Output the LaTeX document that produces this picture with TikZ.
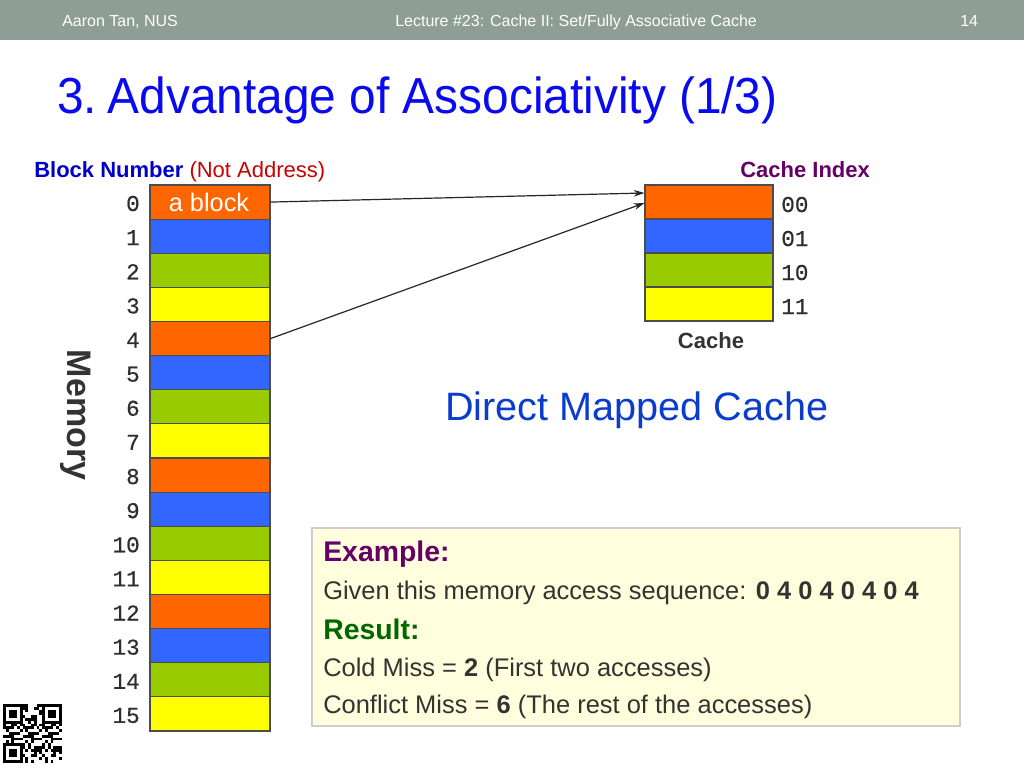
\documentclass[tikz,border=0pt]{standalone}
\usepackage{fontspec}
\setmainfont{Liberation Sans}
\setmonofont{Liberation Mono}
\newfontfamily\digitfont[FakeBold=0.5]{Liberation Mono}
\usetikzlibrary{arrows.meta}
\definecolor{hdr}{RGB}{142,158,150}
\definecolor{ttl}{RGB}{10,10,240}
\definecolor{dmc}{RGB}{10,60,205}
\definecolor{bnum}{RGB}{0,0,200}
\definecolor{nadr}{RGB}{200,0,0}
\definecolor{purp}{RGB}{102,0,102}
\definecolor{grn}{RGB}{0,102,0}
\definecolor{txt}{RGB}{51,51,51}
\definecolor{c0}{RGB}{255,102,0}
\definecolor{c1}{RGB}{51,102,255}
\definecolor{c2}{RGB}{153,204,0}
\definecolor{c3}{RGB}{255,255,0}
\definecolor{boxfill}{RGB}{255,255,221}
\definecolor{boxline}{RGB}{205,205,205}
\tikzset{
  cell/.style={draw=black!70, line width=0.8pt, minimum width=90pt, minimum height=25.6pt, inner sep=0pt},
  ccell/.style={draw=black!70, line width=0.8pt, minimum width=96pt, minimum height=25.5pt, inner sep=0pt},
  numlab/.style={anchor=base east, inner sep=0pt, text=txt!90!black, font=\digitfont\fontsize{17}{17}\selectfont},
  idxlab/.style={anchor=base west, inner sep=0pt, text=txt!90!black, font=\digitfont\fontsize{17}{17}\selectfont},
  hdrtxt/.style={anchor=base west, inner sep=0pt, text=white, font=\fontsize{12}{12}\selectfont},
  body/.style={anchor=base west, inner sep=0pt, text=txt, font=\fontsize{19.1}{19.1}\selectfont},
  conn/.style={-{Stealth[length=8pt,width=5pt]}, line width=0.9pt, black!85},
}
\begin{document}
\begin{tikzpicture}[x=0.75pt,y=-0.75pt]
\useasboundingbox (0,0) rectangle (1024,768);
\fill[white] (0,0) rectangle (1024,768);
% header
\fill[hdr] (0,0) rectangle (1024,40);
\node[hdrtxt] (h1) at (62,26.7) {Aaron Tan, NUS};
\node[hdrtxt] (h2) at (395,26.7) {Lecture \#23: Cache II: Set/Fully Associative Cache};
\node[hdrtxt] (h3) at (960,26.7) {14};
% title
\node[anchor=base west, inner sep=0pt, text=ttl, font=\fontsize{38}{38}\selectfont, xscale=0.944] (title) at (57,113.5) {3.\hspace{-0.15em} Advantage of Associativity (1/3)};
% labels
\node[anchor=base west, inner sep=0pt, font=\fontsize{16.5}{17}\selectfont] (bn) at (34,177.5) {\textcolor{bnum}{\bfseries Block Number} \textcolor{nadr}{(Not Address)}};
\node[anchor=base west, inner sep=0pt, text=purp, font=\bfseries\fontsize{16.5}{17}\selectfont] (ci) at (740,177.5) {Cache Index};
% memory column
\foreach \i [evaluate=\i as \c using {int(mod(\i,4))}] in {0,...,15} {
  \node[cell, fill=c\c] (m\i) at (210, 185+34.125*\i+17.06) {};
  \node[numlab] (n\i) at (140, 185+34.125*\i+26) {\i};
}
\node[anchor=base, inner sep=0pt, text=white, font=\fontsize{19}{19}\selectfont] (ab) at (209,211.7) {a block};
\node[rotate=-90, text=txt, font=\bfseries\fontsize{25.5}{26}\selectfont, inner sep=0pt] (mem) at (76,415) {Memory};
% cache
\foreach \i/\l [evaluate=\i as \c using {int(mod(\i,4))}] in {0/00,1/01,2/10,3/11} {
  \node[ccell, fill=c\c] (k\i) at (709, 185+34*\i+17) {};
  \node[idxlab] (x\i) at (781, 185+34*\i+27) {\l};
}
\node[anchor=base, inner sep=0pt, text=txt, font=\bfseries\fontsize{16.5}{17}\selectfont] (cl) at (711,348) {Cache};
% arrows
\draw[conn] (m0.east) -- ([yshift=6.75pt]k0.west);
\draw[conn] (m4.east) -- ([yshift=-0.75pt]k0.west);
% direct mapped
\node[anchor=base west, inner sep=0pt, text=dmc, font=\fontsize{29.7}{30}\selectfont] (dm) at (445,420) {Direct Mapped Cache};
% example box
\node[draw=boxline, fill=boxfill, line width=0.8pt, minimum width=486pt, minimum height=148.5pt, inner sep=0pt] (ex) at (636,627) {};
\node[body, text=purp, font=\bfseries\fontsize{21.3}{21.3}\selectfont] (e1) at (323,561.5) {Example:};
\node[body] (e2) at (323,599) {Given this memory access sequence: \textbf{0 4 0 4 0 4 0 4}};
\node[body, text=grn, font=\bfseries\fontsize{21.3}{21.3}\selectfont] (e3) at (323,639) {Result:};
\node[body] (e4) at (323,676.5) {Cold Miss = \textbf{2} (First two accesses)};
\node[body] (e5) at (323,713) {Conflict Miss = \textbf{6} (The rest of the accesses)};
% QR code (approximation)
\foreach \r in {0,...,20} {
  \foreach \c in {0,...,20} {
    \pgfmathtruncatemacro\v{mod(\r*37+\c*53+\r*\c*17+mod(\r*\r,11)*\c+\c*\c*11,7)}
    \ifnum\v<3 \fill[black] (3+\c*2.8,704+\r*2.8) rectangle ++(2.8,2.8); \fi
  }
}
\foreach \qx/\qy in {0/0,14/0,0/14} {
  \fill[white] (3+\qx*2.8-0.01,704+\qy*2.8-0.01) rectangle ++(7*2.8+0.02,7*2.8+0.02);
  \fill[black] (3+\qx*2.8,704+\qy*2.8) rectangle ++(7*2.8,7*2.8);
  \fill[white] (3+\qx*2.8+2.8,704+\qy*2.8+2.8) rectangle ++(5*2.8,5*2.8);
  \fill[black] (3+\qx*2.8+5.6,704+\qy*2.8+5.6) rectangle ++(3*2.8,3*2.8);
}
\end{tikzpicture}
\end{document}
